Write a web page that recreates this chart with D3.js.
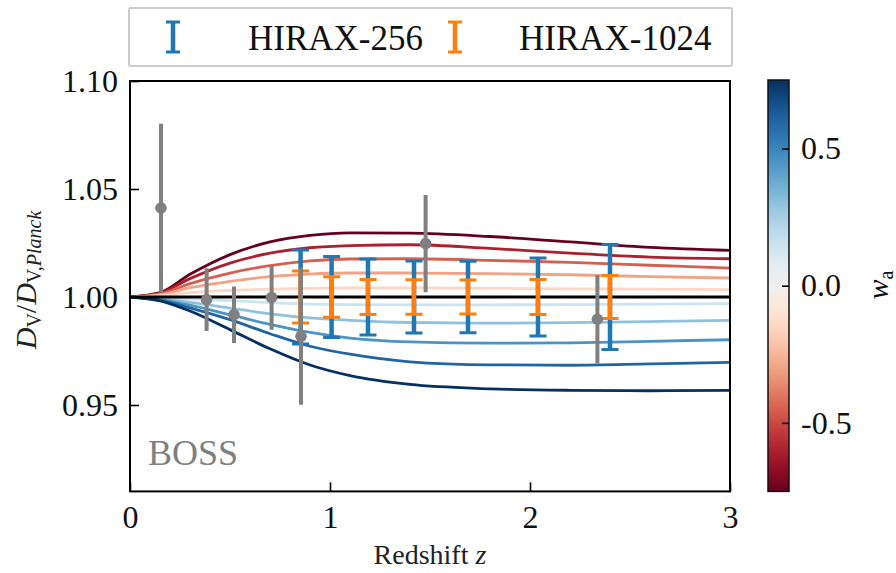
<!DOCTYPE html>
<html><head><meta charset="utf-8">
<script src="https://cdn.jsdelivr.net/npm/d3@7"></script>
<style>
body{margin:0;background:#fff;}
svg text{font-family:"Liberation Serif","Tinos","DejaVu Serif","Times New Roman",Times,serif !important;}
</style></head>
<body><svg id="c" width="896" height="573"></svg>
<script>
// ---- data ----
const zGrid = [0, 0.15, 0.3, 0.5, 0.7, 0.9, 1.1, 1.4, 1.8, 2.2, 2.6, 3.0];
const waValues = [-0.75, -0.6, -0.45, -0.3, -0.15, 0.15, 0.3, 0.45, 0.6, 0.75];
const curveM075 = [1.0, 1.0020, 1.0105, 1.0196, 1.0255, 1.0285, 1.0297, 1.0296, 1.0280, 1.0255, 1.0230, 1.0216];
const curveM060 = [1.0, 1.0018, 1.0085, 1.0157, 1.0203, 1.0228, 1.0238, 1.0242, 1.0225, 1.0203, 1.0185, 1.0177];
const curveM045 = [1.0, 1.0014, 1.0062, 1.0111, 1.0145, 1.0167, 1.0176, 1.0177, 1.0170, 1.0160, 1.0147, 1.0134];
const curveM030 = [1.0, 1.0010, 1.0043, 1.0072, 1.0094, 1.0106, 1.0111, 1.0111, 1.0108, 1.0103, 1.0094, 1.0088];
const curveM015 = [1.0, 1.0006, 1.0020, 1.0031, 1.0036, 1.0040, 1.0042, 1.0042, 1.0040, 1.0038, 1.0036, 1.0034];
const curveP015 = [1.0, 0.9996, 0.9992, 0.9983, 0.9974, 0.9967, 0.9965, 0.9964, 0.9964, 0.9965, 0.9967, 0.9969];
const curveP030 = [1.0, 0.9992, 0.9975, 0.9949, 0.9922, 0.9903, 0.9892, 0.9882, 0.9879, 0.9881, 0.9886, 0.9892];
const curveP045 = [1.0, 0.9988, 0.9962, 0.9918, 0.9873, 0.9836, 0.9810, 0.9792, 0.9786, 0.9788, 0.9795, 0.9802];
const curveP060 = [1.0, 0.9985, 0.9950, 0.9895, 0.9830, 0.9772, 0.9735, 0.9700, 0.9686, 0.9684, 0.9690, 0.9697];
const curveP075 = [1.0, 0.9982, 0.9935, 0.9849, 0.9760, 0.9685, 0.9636, 0.9595, 0.9575, 0.9568, 0.9566, 0.9568];
const curveSeries = [curveM075, curveM060, curveM045, curveM030, curveM015, curveP015, curveP030, curveP045, curveP060, curveP075];

const hiraxZ = [0.853, 1.008, 1.19, 1.42, 1.69, 2.04, 2.40];
const hirax256Err = [0.0218, 0.0188, 0.0176, 0.0167, 0.0165, 0.0181, 0.0243];
const hirax1024Err = [0.0120, 0.0094, 0.0081, 0.0080, 0.0079, 0.0081, 0.0100];

const bossZ = [0.155, 0.383, 0.52, 0.708, 0.855, 1.478, 2.337];
const bossVal = [1.0412, 0.9988, 0.9918, 0.9998, 0.9818, 1.0247, 0.9897];
const bossErr = [0.0390, 0.0145, 0.0131, 0.0150, 0.0317, 0.0225, 0.0205];

const yTicks = [0.95, 1.00, 1.05, 1.10];
const xTicks = [0, 1, 2, 3];
const cbTicks = [-0.5, 0.0, 0.5];
const legendLabels = ["HIRAX-256", "HIRAX-1024"];

// ---- scales ----
const svg = d3.select("#c");
const L = 130, R = 730, T = 81, B = 491.4;
const x = d3.scaleLinear().domain([0, 3]).range([L, R]);
const y = d3.scaleLinear().domain([0.91, 1.10]).range([B, T]);
const cScale = d3.scaleSequential(d3.interpolateRdBu).domain([-0.75, 0.75]);
const C256 = "#1f77b4", C1024 = "#ff7f0e", CG = "#808080";

const plot = svg.append("g");
plot.append("clipPath").attr("id","clip").append("rect").attr("x",L).attr("y",T).attr("width",R-L).attr("height",B-T);
const g = plot.append("g").attr("clip-path","url(#clip)");

const line = d3.line().x((d,i)=>x(zGrid[i])).y(d=>y(d)).curve(d3.curveMonotoneX);
curveSeries.forEach((s,k)=>{
  g.append("path").attr("d", line(s)).attr("fill","none")
   .attr("stroke", cScale(waValues[k])).attr("stroke-width", 2.8);
});
// wa = 0 reference
g.append("path").attr("d", d3.line()([[x(0),y(1)],[x(3),y(1)]]))
 .attr("stroke","#000").attr("stroke-width",3);

function errbars(zs, vals, errs, color, lw, capw, capLw){
  const gg = g.append("g");
  zs.forEach((z,i)=>{
    const cx = x(z), y1 = y(vals[i]+errs[i]), y2 = y(vals[i]-errs[i]);
    gg.append("line").attr("x1",cx).attr("x2",cx).attr("y1",y1).attr("y2",y2)
      .attr("stroke",color).attr("stroke-width",lw);
    if(capw>0){
      [y1,y2].forEach(yy=>gg.append("line").attr("x1",cx-capw/2).attr("x2",cx+capw/2)
        .attr("y1",yy).attr("y2",yy).attr("stroke",color).attr("stroke-width",capLw));
    }
  });
  return gg;
}
errbars(hiraxZ, hiraxZ.map(()=>1), hirax256Err, C256, 4.5, 17, 3);
errbars(hiraxZ, hiraxZ.map(()=>1), hirax1024Err, C1024, 4.5, 17, 3);
const gb = errbars(bossZ, bossVal, bossErr, CG, 4, 0, 0);
bossZ.forEach((z,i)=>{
  gb.append("circle").attr("cx",x(z)).attr("cy",y(bossVal[i])).attr("r",5.8).attr("fill",CG);
});

// BOSS label
svg.append("text").attr("x",148).attr("y",465).attr("font-size",36).attr("fill","#808080").text("BOSS");

// ---- axes ----
const yAxis = d3.axisLeft(y).tickValues(yTicks).tickFormat(d3.format(".2f")).tickSizeInner(-9).tickSizeOuter(0).tickPadding(12);
const xAxis = d3.axisBottom(x).tickValues(xTicks).tickFormat(d3.format("d")).tickSizeInner(-9).tickSizeOuter(0).tickPadding(14);
const ya = svg.append("g").attr("transform",`translate(${L},0)`).call(yAxis);
const xa = svg.append("g").attr("transform",`translate(0,${B})`).call(xAxis);
[ya,xa].forEach(a=>{
  a.select(".domain").remove();
  a.attr("font-family",null);
  a.selectAll(".tick line").attr("stroke","#000").attr("stroke-width",1.6);
  a.selectAll(".tick text").attr("font-size",32).attr("fill","#111");
});
svg.append("rect").attr("x",L).attr("y",T).attr("width",R-L).attr("height",B-T)
  .attr("fill","none").attr("stroke","#000").attr("stroke-width",2);

// axis labels
svg.append("text").attr("x",430).attr("y",564).attr("text-anchor","middle").attr("font-size",28).attr("fill","#222")
  .html('Redshift <tspan font-style="italic">z</tspan>');
const yl = svg.append("text").attr("transform","translate(36,280) rotate(-90)").attr("text-anchor","middle")
  .attr("font-size",30).attr("fill","#222");
yl.append("tspan").attr("font-style","italic").text("D");
yl.append("tspan").attr("font-size",20).attr("dy",5).text("V");
yl.append("tspan").attr("dy",-5).text("/");
yl.append("tspan").attr("font-style","italic").text("D");
yl.append("tspan").attr("font-size",20).attr("dy",5).text("V,");
yl.append("tspan").attr("font-size",20).attr("font-style","italic").text("Planck");

// ---- legend ----
const lg = svg.append("g");
lg.append("rect").attr("x",129).attr("y",8).attr("width",603).attr("height",58).attr("rx",2)
  .attr("fill","#fff").attr("stroke","#cccccc").attr("stroke-width",2);
const legItems = [{c:C256, mx:173, tx:248},{c:C1024, mx:455, tx:519}];
legItems.forEach((it,i)=>{
  const y1 = 22, y2 = 52;
  lg.append("line").attr("x1",it.mx).attr("x2",it.mx).attr("y1",y1).attr("y2",y2).attr("stroke",it.c).attr("stroke-width",4.5);
  [y1,y2].forEach(yy=>lg.append("line").attr("x1",it.mx-7).attr("x2",it.mx+7).attr("y1",yy).attr("y2",yy).attr("stroke",it.c).attr("stroke-width",3));
  lg.append("text").attr("x",it.tx).attr("y",50).attr("font-size",35).attr("fill","#111").text(legendLabels[i]);
});

// ---- colorbar ----
const cbX = 768, cbW = 21;
const cy = d3.scaleLinear().domain([-0.75,0.75]).range([B, T-1]);
const defs = svg.append("defs");
const grad = defs.append("linearGradient").attr("id","cbg").attr("x1",0).attr("x2",0).attr("y1",1).attr("y2",0);
d3.range(0,1.0001,0.05).forEach(t=>grad.append("stop").attr("offset",t).attr("stop-color",d3.interpolateRdBu(t)));
svg.append("rect").attr("x",cbX).attr("y",cy(0.75)).attr("width",cbW).attr("height",cy(-0.75)-cy(0.75))
  .attr("fill","url(#cbg)").attr("stroke","#111").attr("stroke-width",1.5);
const cbAxis = d3.axisRight(cy).tickValues(cbTicks).tickFormat(d=>d===0?"0.0":d3.format(".1f")(d).replace("−","-")).tickSizeInner(-7).tickSizeOuter(0).tickPadding(12);
const ca = svg.append("g").attr("transform",`translate(${cbX+cbW},0)`).call(cbAxis);
ca.select(".domain").remove();
ca.attr("font-family",null);
ca.selectAll(".tick line").attr("stroke","#000").attr("stroke-width",1.6);
ca.selectAll(".tick text").attr("font-size",32).attr("fill","#111");
const wl = svg.append("text").attr("transform","translate(888,285) rotate(-90)").attr("text-anchor","middle")
  .attr("font-size",30).attr("fill","#111");
wl.append("tspan").attr("font-style","italic").text("w");
wl.append("tspan").attr("font-size",20).attr("dy",5).text("a");
</script></body></html>
